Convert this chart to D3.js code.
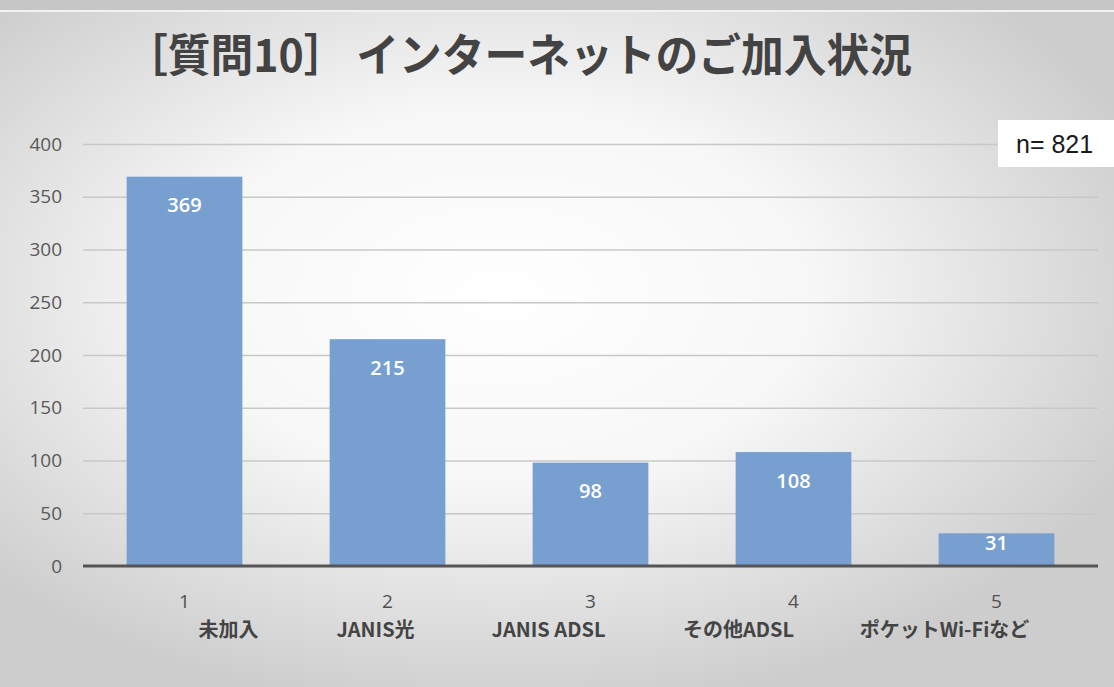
<!DOCTYPE html>
<html>
<head>
<meta charset="utf-8">
<script src="https://cdn.jsdelivr.net/npm/d3@7"></script>
<style>
  body { margin: 0; background: #c9c9c9; }
  svg { display: block; }
  .tick-label { font-family: "Open Sans", "Liberation Sans", sans-serif; font-size: 19px; fill: #595959; }
  .cat-num { font-family: "Open Sans", sans-serif; font-size: 19px; fill: #505050; }
  .cat-name { font-family: "Noto Sans CJK JP", sans-serif; font-size: 20px; font-weight: 700; fill: #444444; }
  .bar-label { font-family: "Open Sans", sans-serif; font-size: 20px; font-weight: 600; fill: #ffffff; }
</style>
</head>
<body>
<svg width="1114" height="687"></svg>
<script>
// data
var catNums = ['1', '2', '3', '4', '5'];
var catNames = ['未加入', 'JANIS光', 'JANIS ADSL', 'その他ADSL', 'ポケットWi-Fiなど'];
var counts = [369, 215, 98, 108, 31];
var yTicks = [0, 50, 100, 150, 200, 250, 300, 350, 400];
var titleText = '［質問10］ インターネットのご加入状況';
var sampleText = 'n= 821';

var svg = d3.select('svg');
var svgWidth = +svg.attr('width');
var svgHeight = +svg.attr('height');

// plot area
var plot = {l: 83, r: 1098, t: 144, b: 566};

// background: scanned slide look
var defs = svg.append('defs');
var grad = defs.append('radialGradient')
    .attr('id', 'bg')
    .attr('cx', 0.45).attr('cy', 0.42).attr('r', 0.62);
grad.append('stop').attr('offset', '0%').attr('stop-color', '#ffffff');
grad.append('stop').attr('offset', '45%').attr('stop-color', '#f7f7f7');
grad.append('stop').attr('offset', '100%').attr('stop-color', '#cdcdcd');

svg.append('rect')
    .attr('width', svgWidth).attr('height', 10)
    .attr('fill', '#c6c6c6');
svg.append('rect')
    .attr('y', 10).attr('width', svgWidth).attr('height', 2)
    .attr('fill', '#f2f2f2');
svg.append('rect')
    .attr('y', 12).attr('width', svgWidth).attr('height', svgHeight - 12)
    .attr('fill', 'url(#bg)');

// title
svg.append('text')
    .attr('x', 125).attr('y', 72)
    .style('font-family', '"Noto Sans CJK JP", sans-serif')
    .style('font-size', '45px')
    .style('font-weight', 700)
    .style('fill', '#434343')
    .attr('textLength', 787)
    .attr('lengthAdjust', 'spacingAndGlyphs')
    .text(titleText);

// scales
var x = d3.scaleBand()
    .domain(catNums)
    .range([plot.l, plot.r])
    .paddingInner(0.43)
    .paddingOuter(0.215);

var y = d3.scaleLinear()
    .domain([0, 400])
    .range([plot.b, plot.t]);

// gridlines
var yGrid = d3.axisLeft(y)
    .tickValues(yTicks)
    .tickSize(-(plot.r - plot.l))
    .tickFormat('');

var grid = svg.append('g')
    .attr('transform', 'translate(' + plot.l + ',0)')
    .call(yGrid);
grid.select('.domain').remove();
grid.selectAll('line')
    .attr('stroke', '#c8c8c8')
    .attr('stroke-width', 1.3);

// y tick labels
var yAxis = d3.axisLeft(y)
    .tickValues(yTicks)
    .tickSize(0)
    .tickPadding(0);
var ya = svg.append('g')
    .attr('transform', 'translate(62,0)')
    .call(yAxis);
ya.select('.domain').remove();
ya.attr('font-family', null).attr('font-size', null);
ya.selectAll('text')
    .attr('class', 'tick-label')
    .attr('fill', null);

// bars
svg.selectAll('.bar')
    .data(counts)
    .enter()
    .append('rect')
    .attr('class', 'bar')
    .attr('x', function(d, i) { return x(catNums[i]); })
    .attr('width', x.bandwidth())
    .attr('y', function(d) { return y(d); })
    .attr('height', function(d) { return y(0) - y(d); })
    .attr('fill', '#779fcf');

// value labels inside the bar ends
svg.selectAll('.bar-label')
    .data(counts)
    .enter()
    .append('text')
    .attr('class', 'bar-label')
    .attr('text-anchor', 'middle')
    .attr('dominant-baseline', 'central')
    .attr('x', function(d, i) { return x(catNums[i]) + x.bandwidth() / 2; })
    .attr('y', function(d) {
        var h = y(0) - y(d);
        return y(d) + (h > 60 ? 28 : 9);
    })
    .text(function(d) { return d; });

// baseline
svg.append('line')
    .attr('x1', plot.l).attr('x2', plot.r)
    .attr('y1', y(0)).attr('y2', y(0))
    .attr('stroke', '#555555')
    .attr('stroke-width', 3);

// category labels: number line, name line (names sit off-centre as in the slide)
var nameShift = [44, -12, -42, -55, -52];
var xAxis = d3.axisBottom(x).tickSize(0).tickPadding(0);
var xa = svg.append('g')
    .attr('transform', 'translate(0,' + y(0) + ')')
    .call(xAxis);
xa.select('.domain').remove();
xa.attr('font-family', null).attr('font-size', null);
xa.selectAll('text')
    .attr('class', 'cat-num')
    .attr('fill', null)
    .attr('y', 42)
    .attr('dy', null);

xa.selectAll('.tick')
    .append('text')
    .attr('class', 'cat-name')
    .attr('text-anchor', 'middle')
    .attr('x', function(d, i) { return nameShift[i]; })
    .attr('y', 71)
    .text(function(d, i) { return catNames[i]; });

// n= box
svg.append('rect')
    .attr('x', 998).attr('y', 120)
    .attr('width', 120).attr('height', 47)
    .attr('fill', '#ffffff');
svg.append('text')
    .attr('x', 1016).attr('y', 153)
    .style('font-family', '"Liberation Sans", Arial, sans-serif')
    .style('font-size', '25px')
    .style('fill', '#1a1a1a')
    .text(sampleText);
</script>
</body>
</html>
